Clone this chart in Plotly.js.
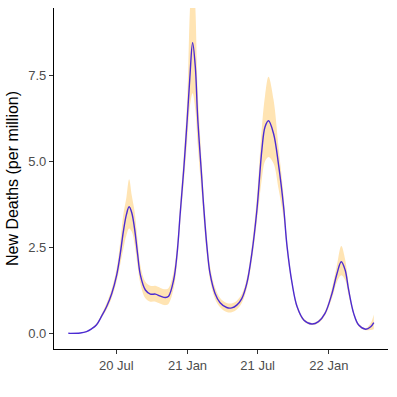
<!DOCTYPE html>
<html>
<head>
<meta charset="utf-8">
<script src="https://cdn.plot.ly/plotly-3.0.1.min.js"></script>
<style>html,body{margin:0;padding:0;background:#fff;}#chart{width:397px;height:397px;}</style>
</head>
<body>
<div id="chart"></div>
<script>
const dates = ["2020-02-28","2020-03-30","2020-04-15","2020-04-28","2020-05-11","2020-05-24","2020-06-06","2020-06-19","2020-07-02","2020-07-11","2020-07-19","2020-07-27","2020-08-03","2020-08-10","2020-08-17","2020-08-25","2020-09-01","2020-09-14","2020-09-27","2020-10-10","2020-10-23","2020-11-05","2020-11-13","2020-11-26","2020-12-05","2020-12-13","2020-12-22","2020-12-31","2021-01-07","2021-01-14","2021-01-21","2021-01-27","2021-02-07","2021-02-11","2021-02-20","2021-02-28","2021-03-13","2021-03-26","2021-04-12","2021-04-25","2021-05-08","2021-05-21","2021-06-03","2021-06-16","2021-06-29","2021-07-12","2021-07-20","2021-07-29","2021-08-11","2021-08-24","2021-09-06","2021-09-15","2021-09-28","2021-10-11","2021-10-28","2021-11-18","2021-12-05","2021-12-22","2022-01-09","2022-01-22","2022-02-02","2022-02-12","2022-02-21","2022-03-06","2022-03-19","2022-04-06","2022-04-19","2022-04-27"];
const deaths = [0,0.01,0.05,0.13,0.25,0.50,0.78,1.15,1.70,2.30,2.95,3.45,3.68,3.50,3.05,2.30,1.70,1.26,1.14,1.14,1.08,1.04,1.08,1.55,2.33,3.49,4.75,6.21,7.46,8.45,7.75,6.30,4.46,3.78,2.52,1.74,1.16,0.89,0.75,0.74,0.82,1.01,1.45,2.32,3.58,5.35,6.0,6.18,5.81,4.9,3.68,2.52,1.45,0.77,0.39,0.27,0.34,0.58,1.16,1.74,2.08,1.84,1.26,0.58,0.24,0.12,0.19,0.31];
const lower = [0,0.01,0.04,0.11,0.22,0.45,0.69,1.03,1.52,2.0,2.45,2.85,3.05,2.95,2.6,1.95,1.45,1.02,0.92,0.92,0.86,0.82,0.86,1.3,2.05,3.2,4.35,5.6,6.6,6.98,6.5,5.5,4.0,3.4,2.25,1.55,1.0,0.76,0.62,0.61,0.69,0.88,1.3,2.1,3.25,4.5,5.0,5.13,4.94,4.2,3.35,2.35,1.35,0.71,0.35,0.24,0.30,0.52,1.02,1.5,1.69,1.55,1.1,0.52,0.20,0.09,0.10,0.12];
const upper = [0,0.01,0.06,0.15,0.29,0.56,0.88,1.29,1.90,2.65,3.45,3.95,4.48,4.0,3.55,2.7,1.98,1.5,1.38,1.38,1.32,1.28,1.32,1.8,2.6,3.8,5.15,6.8,9.4,10.8,9.5,7.1,4.9,4.15,2.8,1.95,1.33,1.03,0.88,0.87,0.95,1.14,1.6,2.55,3.95,6.0,6.9,7.46,6.8,5.4,4.0,2.7,1.55,0.83,0.43,0.30,0.38,0.64,1.32,2.0,2.54,2.15,1.42,0.64,0.28,0.15,0.30,0.55];
const tickDates = ["2020-07-01","2021-01-01","2021-07-01","2022-01-01"];
const tickLabels = ["20 Jul","21 Jan","21 Jul","22 Jan"];
const yTicks = [0,2.5,5,7.5];
const yTickLabels = ["0.0","2.5","5.0","7.5"];

const sm = 1.0;
const traces = [
  {x: dates, y: lower, type: "scatter", mode: "lines", line: {width: 0, shape: "spline", smoothing: sm}, hoverinfo: "skip", showlegend: false},
  {x: dates, y: upper, type: "scatter", mode: "lines", fill: "tonexty", fillcolor: "#FFE4B3", line: {width: 0, shape: "spline", smoothing: sm}, hoverinfo: "skip", showlegend: false},
  {x: dates, y: deaths, type: "scatter", mode: "lines", line: {color: "#4B2BD3", width: 1.4, shape: "spline", smoothing: sm}, showlegend: false}
];
const layout = {
  width: 397, height: 397,
  margin: {l: 54, r: 9, t: 8, b: 48},
  paper_bgcolor: "#fff", plot_bgcolor: "#fff",
  font: {family: "Liberation Sans, Arial, sans-serif", color: "#4D4D4D", size: 13},
  showlegend: false,
  xaxis: {
    type: "date", range: ["2020-01-22", "2022-06-02 16:00"],
    tickmode: "array", tickvals: tickDates, ticktext: tickLabels,
    showgrid: false, zeroline: false, showline: true, linecolor: "#000", linewidth: 1.1,
    ticks: "outside", ticklen: 4, tickwidth: 1, tickcolor: "#333",
    tickfont: {size: 13, color: "#4D4D4D"}
  },
  yaxis: {
    range: [-0.456, 9.46],
    tickmode: "array", tickvals: yTicks, ticktext: yTickLabels,
    showgrid: false, zeroline: false, showline: true, linecolor: "#000", linewidth: 1.1,
    ticks: "outside", ticklen: 4, tickwidth: 1, tickcolor: "#333",
    tickfont: {size: 13, color: "#4D4D4D"},
    title: {text: "New Deaths (per million)", font: {size: 16, color: "#000"}, standoff: 5}
  }
};
Plotly.newPlot("chart", traces, layout, {staticPlot: true, displayModeBar: false});
</script>
</body>
</html>
